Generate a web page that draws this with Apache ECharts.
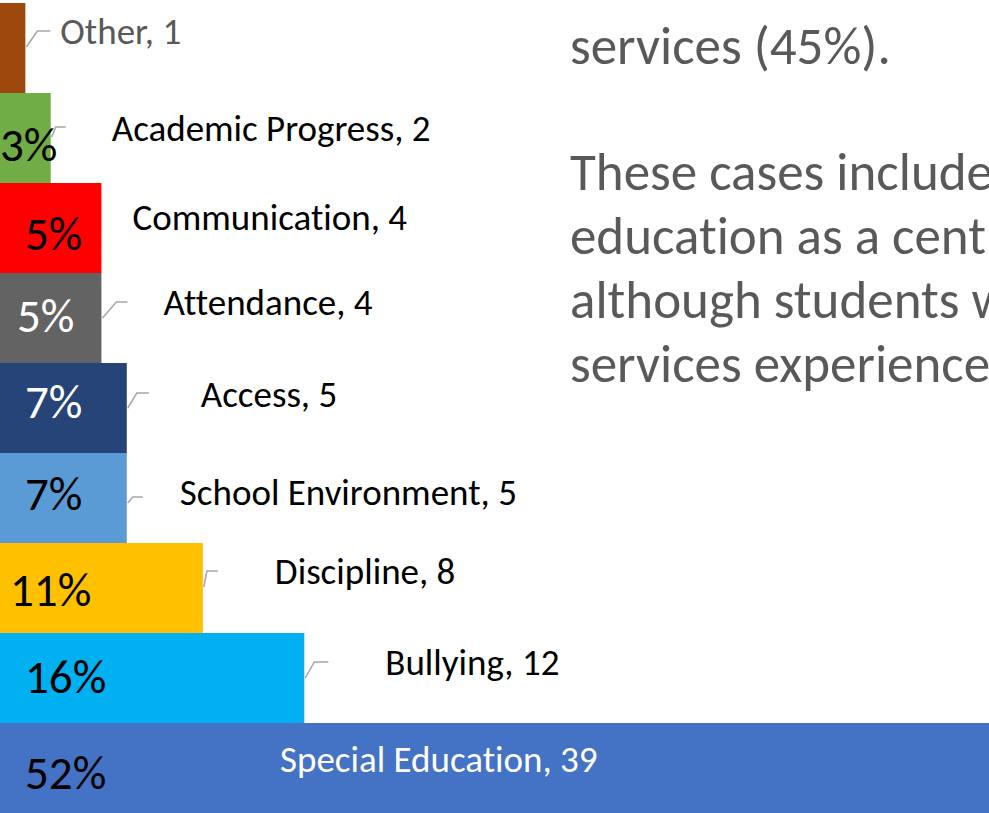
<!DOCTYPE html>
<html>
<head>
<meta charset="utf-8">
<script src="https://cdn.jsdelivr.net/npm/echarts@6/dist/echarts.min.js"></script>
<style>
  html, body { margin: 0; padding: 0; background: #ffffff; }
  #chart { width: 989px; height: 813px; overflow: hidden; }
  #chart svg text {
    font-variant-ligatures: none !important;
    font-feature-settings: "liga" 0, "clig" 0, "calt" 0, "dlig" 0, "hlig" 0, "rlig" 0 !important;
  }
</style>
</head>
<body>
<div id="chart"></div>
<script>
// Case topics, top to bottom
const categories = ['Other', 'Academic Progress', 'Communication', 'Attendance', 'Access',
                    'School Environment', 'Discipline', 'Bullying', 'Special Education'];
// Number of cases per topic
const counts = [1, 2, 4, 4, 5, 5, 8, 12, 39];
// Share labels shown inside each bar
const shares = ['', '3%', '5%', '5%', '7%', '7%', '11%', '16%', '52%'];
// Side paragraph lines
const noteTop = 'services (45%).';
const noteLines = ['These cases include', 'education as a cent', 'although students w', 'services experience'];

// Styling
const barColors = ['#9E480E', '#70AD47', '#FF0000', '#636363', '#264478',
                   '#5B9BD5', '#FFC000', '#00B0F0', '#4472C4'];
const shareColors = ['#000', '#000', '#000', '#fff', '#fff', '#000', '#000', '#000', '#000'];
const FONT = 'Carlito, "Open Sans", sans-serif';
const NAME_SIZE = 37;
const SHARE_SIZE = 47;
const NOTE_SIZE = 53;

// Share label placement inside the bar: [left offset, vertical shift from band centre]
const shareLayout = [[25, 0], [0, 7], [25, 6], [17, -2], [25, -6], [25, -4], [10, 2], [25, -1], [25, 5]];
// Name label placement relative to the bar end / band centre:
// text [dx, dy], leader [startDy, kneeDx, kneeDy, endDx] (null = no leader)
const nameLayout = [
  { t: [35, -17], l: [-1, 12, -17, 25], c: '#595959' },
  { t: [61, -10], l: [-1, 5, -11, 15],  c: '#000' },
  { t: [31, -11], l: null,              c: '#000' },
  { t: [62, -16], l: [0, 15, -16, 26],  c: '#000' },
  { t: [74, -14], l: [0, 10, -15, 22],  c: '#000' },
  { t: [53, -6],  l: [5, 6, -1, 16],    c: '#000' },
  { t: [72, -17], l: [-1, 4, -17, 15],  c: '#000' },
  { t: [81, -16], l: [0, 10, -16, 24],  c: '#000' },
  { t: [-709, -9], l: null,             c: '#fff' }
];

const chart = echarts.init(document.getElementById('chart'), null, { renderer: 'svg' });

const barData = counts.map((v, i) => ({
  value: v,
  itemStyle: { color: barColors[i] },
  label: {
    show: shares[i] !== '',
    formatter: shares[i],
    position: [shareLayout[i][0], 45 + shareLayout[i][1]],
    align: 'left',
    verticalAlign: 'middle',
    color: shareColors[i],
    fontFamily: FONT,
    fontSize: SHARE_SIZE
  }
}));

chart.setOption({
  animation: false,
  grid: { left: 0, right: 0, top: 3, bottom: 0, containLabel: false },
  xAxis: { type: 'value', min: 0, max: 39, show: false },
  yAxis: { type: 'category', data: categories, inverse: true, show: false },
  series: [
    {
      type: 'bar',
      data: barData,
      barWidth: '100%',
      barCategoryGap: 0,
      z: 2
    },
    {
      type: 'custom',
      clip: false,
      z: 3,
      data: counts.map((v, i) => [v, i]),
      encode: { x: 0, y: 1 },
      renderItem: function (params, api) {
        const i = params.dataIndex;
        const end = api.coord([api.value(0), api.value(1)]);
        const lay = nameLayout[i];
        const children = [];
        if (lay.l) {
          const [s, kx, ky, ex] = lay.l;
          children.push({
            type: 'polyline',
            shape: { points: [[end[0] + 1, end[1] + s], [end[0] + kx, end[1] + ky], [end[0] + ex, end[1] + ky]] },
            style: { stroke: '#A6A6A6', lineWidth: 1.5, fill: null }
          });
        }
        children.push({
          type: 'text',
          x: end[0] + lay.t[0],
          y: end[1] + lay.t[1],
          style: {
            text: categories[i] + ', ' + counts[i],
            fill: lay.c,
            font: NAME_SIZE + 'px ' + FONT,
            textAlign: 'left',
            textVerticalAlign: 'middle'
          }
        });
        return { type: 'group', children: children };
      }
    }
  ],
  graphic: [
    {
      type: 'text', x: 570, y: 46, z: 5,
      style: { text: noteTop, font: NOTE_SIZE + 'px ' + FONT, fill: '#595959', textVerticalAlign: 'middle' }
    }
  ].concat(noteLines.map((t, k) => ({
    type: 'text', x: 570, y: 172 + 64 * k, z: 5,
    style: { text: t, font: NOTE_SIZE + 'px ' + FONT, fill: '#595959', textVerticalAlign: 'middle' }
  })))
});
</script>
</body>
</html>
